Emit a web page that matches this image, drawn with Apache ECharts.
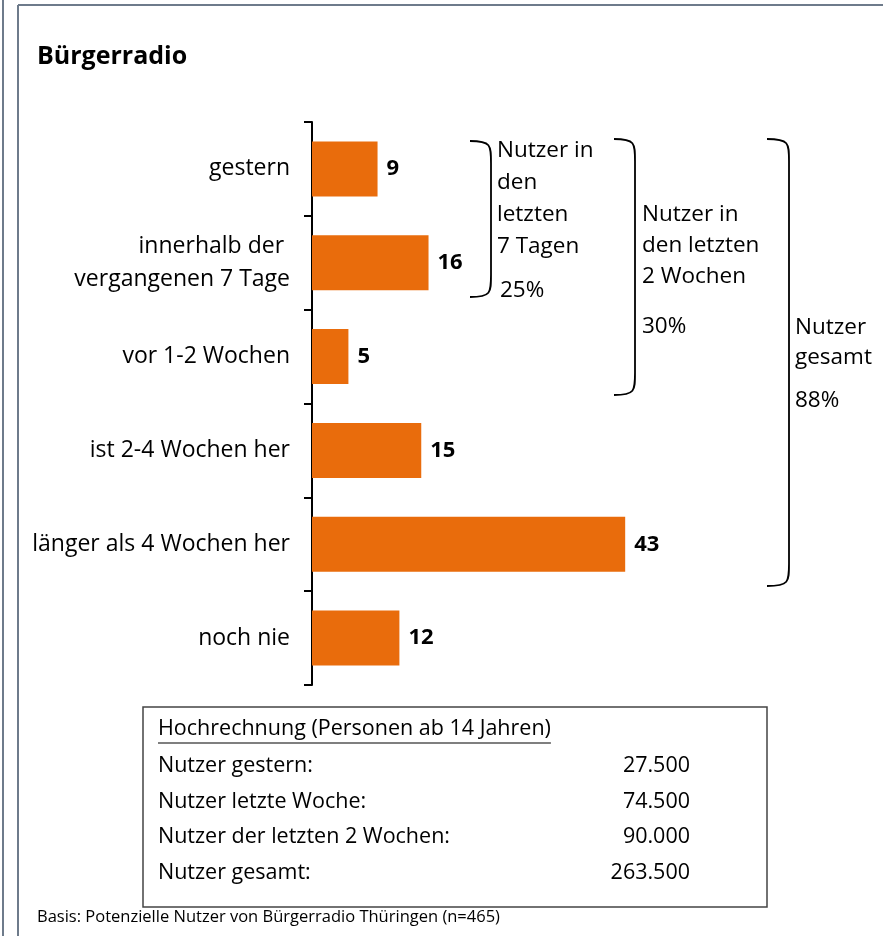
<!DOCTYPE html>
<html>
<head>
<meta charset="utf-8">
<script src="https://cdn.jsdelivr.net/npm/echarts@6/dist/echarts.min.js"></script>
<style>
  html, body { margin: 0; padding: 0; background: #fff; }
  #main { width: 883px; height: 936px; }
</style>
</head>
<body>
<div id="main"></div>
<script>
// Kategorien und Werte (Prozent)
var categories = ['gestern', 'innerhalb der \nvergangenen 7 Tage', 'vor 1-2 Wochen',
  'ist 2-4 Wochen her', 'länger als 4 Wochen her', 'noch nie'];
var values = [9, 16, 5, 15, 43, 12];

// Hochrechnung
var tableTitle = 'Hochrechnung (Personen ab 14 Jahren)';
var tableLabels = ['Nutzer gestern:', 'Nutzer letzte Woche:', 'Nutzer der letzten 2 Wochen:', 'Nutzer gesamt:'];
var tableValues = ['27.500', '74.500', '90.000', '263.500'];

var font = '"Open Sans"';
var orange = '#E96C0C';
var frame = '#6e7b8b';

// Klammer ")" aus zwei Kurven und einer Linie
function bracket(x0, x1, y0, y1) {
  var r = 22;
  var st = { stroke: '#000', lineWidth: 1.8, fill: null };
  return {
    type: 'group',
    children: [
      { type: 'bezierCurve', shape: { x1: x0, y1: y0, x2: x1, y2: y0 + r, cpx1: x1, cpy1: y0, cpx2: x1, cpy2: y0 + 4 }, style: st },
      { type: 'line', shape: { x1: x1, y1: y0 + r, x2: x1, y2: y1 - r }, style: st },
      { type: 'bezierCurve', shape: { x1: x1, y1: y1 - r, x2: x0, y2: y1, cpx1: x1, cpy1: y1 - 4, cpx2: x1, cpy2: y1 }, style: st }
    ]
  };
}

function txt(x, y, s, opts) {
  var st = { text: s, x: x, y: y, font: '22.5px ' + font, fill: '#000', textVerticalAlign: 'middle' };
  for (var k in opts) st[k] = opts[k];
  return { type: 'text', style: st };
}

var tableFont = '21.5px ' + font;

// Breite des unterstrichenen Titels messen
var ctx = document.createElement('canvas').getContext('2d');
ctx.font = tableFont;
var titleW = ctx.measureText(tableTitle).width;

var graphics = [
  // Rahmen
  { type: 'line', shape: { x1: 3, y1: 0, x2: 3, y2: 936 }, style: { stroke: frame, lineWidth: 2 } },
  { type: 'line', shape: { x1: 18, y1: 5, x2: 18, y2: 936 }, style: { stroke: frame, lineWidth: 2 } },
  { type: 'line', shape: { x1: 18, y1: 5, x2: 883, y2: 5 }, style: { stroke: frame, lineWidth: 2 } },
  // Titel
  txt(37, 57, 'Bürgerradio', { font: 'bold 25px ' + font }),
  // Klammern
  bracket(470, 491, 141, 297),
  bracket(614, 635, 139, 395),
  bracket(767, 789, 139, 586),
  txt(497, 151, 'Nutzer in'), txt(497, 183, 'den'), txt(497, 215, 'letzten'), txt(497, 247, '7 Tagen'),
  txt(500, 291, '25%'),
  txt(642, 215, 'Nutzer in'), txt(642, 246, 'den letzten'), txt(642, 277, '2 Wochen'),
  txt(642, 327, '30%'),
  txt(795, 328, 'Nutzer'), txt(795, 358, 'gesamt'),
  txt(795, 401, '88%'),
  // Tabelle
  { type: 'rect', shape: { x: 143, y: 707, width: 624, height: 200 }, style: { stroke: '#444', lineWidth: 1.5, fill: null } },
  txt(158, 729, tableTitle, { font: tableFont }),
  { type: 'line', shape: { x1: 158, y1: 743, x2: 158 + titleW, y2: 743 }, style: { stroke: '#000', lineWidth: 1.2 } },
  // Fußnote
  txt(37, 917, 'Basis: Potenzielle Nutzer von Bürgerradio Thüringen (n=465)', { font: '16.5px ' + font })
];
for (var i = 0; i < tableLabels.length; i++) {
  graphics.push(txt(158, 766 + i * 35.5, tableLabels[i], { font: tableFont }));
  graphics.push(txt(690, 766 + i * 35.5, tableValues[i], { textAlign: 'right', font: tableFont }));
}

var myChart = echarts.init(document.getElementById('main'));

var option = {
  animation: false,
  grid: { left: 312, top: 122, width: 437, height: 563 },
  xAxis: {
    type: 'value',
    min: 0,
    max: 60,
    show: false
  },
  yAxis: {
    type: 'category',
    inverse: true,
    data: categories,
    axisLine: { show: true, lineStyle: { color: '#000', width: 2 } },
    axisTick: { show: true, length: 8, lineStyle: { color: '#000', width: 2 } },
    axisLabel: { color: '#000', fontSize: 23, fontFamily: font, margin: 22, lineHeight: 33, align: 'right' }
  },
  series: [{
    type: 'bar',
    data: values,
    barWidth: 55,
    itemStyle: { color: orange },
    label: {
      show: true,
      position: 'right',
      distance: 9,
      color: '#000',
      fontWeight: 'bold',
      fontSize: 22,
      fontFamily: font
    }
  }],
  graphic: graphics
};

myChart.setOption(option);
</script>
</body>
</html>
